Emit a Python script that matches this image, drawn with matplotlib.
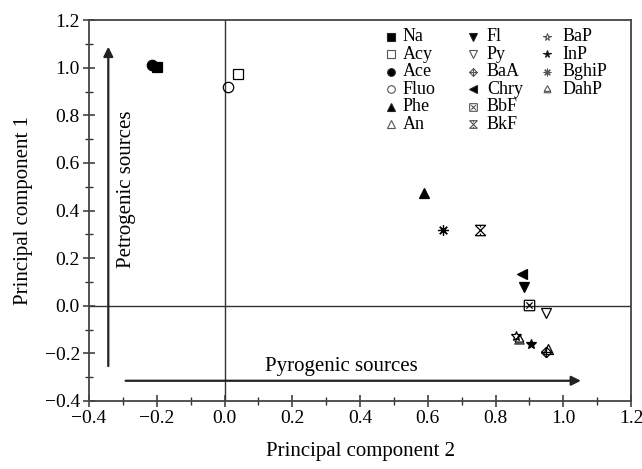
import matplotlib.pyplot as plt
from matplotlib.path import Path
from matplotlib.ticker import MultipleLocator

plt.rcParams['font.family'] = ['Liberation Serif', 'DejaVu Serif']

# PCA loadings
compounds = ['Na', 'Acy', 'Ace', 'Fluo', 'Phe', 'An', 'Fl', 'Py', 'BaA', 'Chry',
             'BbF', 'BkF', 'BaP', 'InP', 'BghiP', 'DahP']
pc2 = [-0.20, 0.04, -0.215, 0.01, 0.59, 0.955, 0.885, 0.95, 0.948, 0.877,
       0.90, 0.755, 0.86, 0.905, 0.645, 0.868]
pc1 = [1.005, 0.975, 1.01, 0.92, 0.475, -0.18, 0.08, -0.03, -0.193, 0.135,
       0.005, 0.32, -0.125, -0.16, 0.32, -0.14]


def open_path(segs):
    verts, codes = [], []
    for a, b in segs:
        verts += [a, b]
        codes += [Path.MOVETO, Path.LINETO]
    return Path(verts, codes)


box_x = open_path([((-1, -1), (1, -1)), ((1, -1), (1, 1)), ((1, 1), (-1, 1)), ((-1, 1), (-1, -1)),
                   ((-0.6, -0.6), (0.6, 0.6)), ((-0.6, 0.6), (0.6, -0.6))])
hour_x = open_path([((-1, -1), (1, 1)), ((-1, 1), (1, -1)), ((-1, 1), (1, 1)), ((-1, -1), (1, -1)),
                    ((0, 1), (0, 0.6)), ((0, -1), (0, -0.6))])
dia_plus = open_path([((0, 1), (1, 0)), ((1, 0), (0, -1)), ((0, -1), (-1, 0)), ((-1, 0), (0, 1)),
                      ((0, 1), (0, -1)), ((-1, 0), (1, 0))])
tri_bar = open_path([((-0.85, -0.5), (0, 1)), ((0, 1), (0.85, -0.5)), ((0.85, -0.5), (-0.85, -0.5)),
                     ((-1, -0.85), (1, -0.85))])

# marker, filled
styles = {
    'Na': ('s', True), 'Acy': ('s', False), 'Ace': ('o', True), 'Fluo': ('o', False),
    'Phe': ('^', True), 'An': ('^', False), 'Fl': ('v', True), 'Py': ('v', False),
    'BaA': (dia_plus, False), 'Chry': ('<', True), 'BbF': (box_x, False),
    'BkF': (hour_x, False), 'BaP': ('*', False), 'InP': ('*', True),
    'BghiP': ((8, 2, 0), False), 'DahP': (tri_bar, False),
}

fig = plt.figure(figsize=(6.42, 4.69), dpi=100)
ax = fig.add_axes([0.1386, 0.145, 0.8445, 0.812])

ax.axhline(0, color='#333333', lw=1.0, zorder=1)
ax.axvline(0, color='#333333', lw=1.0, zorder=1)

for name, x, y in zip(compounds, pc2, pc1):
    m, filled = styles[name]
    ax.plot(x, y, linestyle='none', marker=m, markersize=7.5,
            markerfacecolor='black' if filled else 'none',
            markeredgecolor='black', markeredgewidth=0.9, zorder=3)

# arrows
ax.annotate('', xy=(1.06, -0.315), xytext=(-0.30, -0.315),
            arrowprops=dict(arrowstyle='-|>', color='#222222', lw=1.6, mutation_scale=14))
ax.annotate('', xy=(-0.343, 1.10), xytext=(-0.343, -0.265),
            arrowprops=dict(arrowstyle='-|>', color='#222222', lw=1.6, mutation_scale=14))
ax.text(0.345, -0.255, 'Pyrogenic sources', ha='center', va='center', fontsize=15)
ax.text(-0.29, 0.49, 'Petrogenic sources', ha='center', va='center', rotation=90, fontsize=15)

# legend, drawn by hand in three columns
cols = [compounds[0:6], compounds[6:12], compounds[12:16]]
col_mx = [0.557, 0.708, 0.845]
col_tx = [0.579, 0.734, 0.873]
for ci, col in enumerate(cols):
    for ri, name in enumerate(col):
        yy = 0.956 - ri * 0.0459
        m, filled = styles[name]
        ax.plot(col_mx[ci], yy, transform=ax.transAxes, linestyle='none', marker=m,
                markersize=5.5, markerfacecolor='black' if filled else 'none',
                markeredgecolor='#222222' if filled else '#555555', markeredgewidth=0.8,
                clip_on=False)
        ax.text(col_tx[ci], yy, name, transform=ax.transAxes, ha='left', va='center',
                fontsize=13)

ax.set_xlim(-0.4, 1.2)
ax.set_ylim(-0.4, 1.2)
ax.xaxis.set_major_locator(MultipleLocator(0.2))
ax.yaxis.set_major_locator(MultipleLocator(0.2))
ax.xaxis.set_minor_locator(MultipleLocator(0.1))
ax.yaxis.set_minor_locator(MultipleLocator(0.1))
ax.xaxis.set_major_formatter(lambda v, p: f'{v:.1f}'.replace('-', '\u2212'))
ax.yaxis.set_major_formatter(lambda v, p: f'{v:.1f}'.replace('-', '\u2212'))
ax.tick_params(which='major', direction='inout', length=9, width=1.1, color='#333333',
               labelsize=14, pad=2)
ax.tick_params(which='minor', direction='inout', length=6, width=1.0, color='#333333')
for s in ax.spines.values():
    s.set_color('#444444')
    s.set_linewidth(1.3)

ax.set_xlabel('Principal component 2', fontsize=15, labelpad=11)
ax.set_ylabel('Principal component 1', fontsize=15, labelpad=8)

fig.savefig('out.png', dpi=100)
